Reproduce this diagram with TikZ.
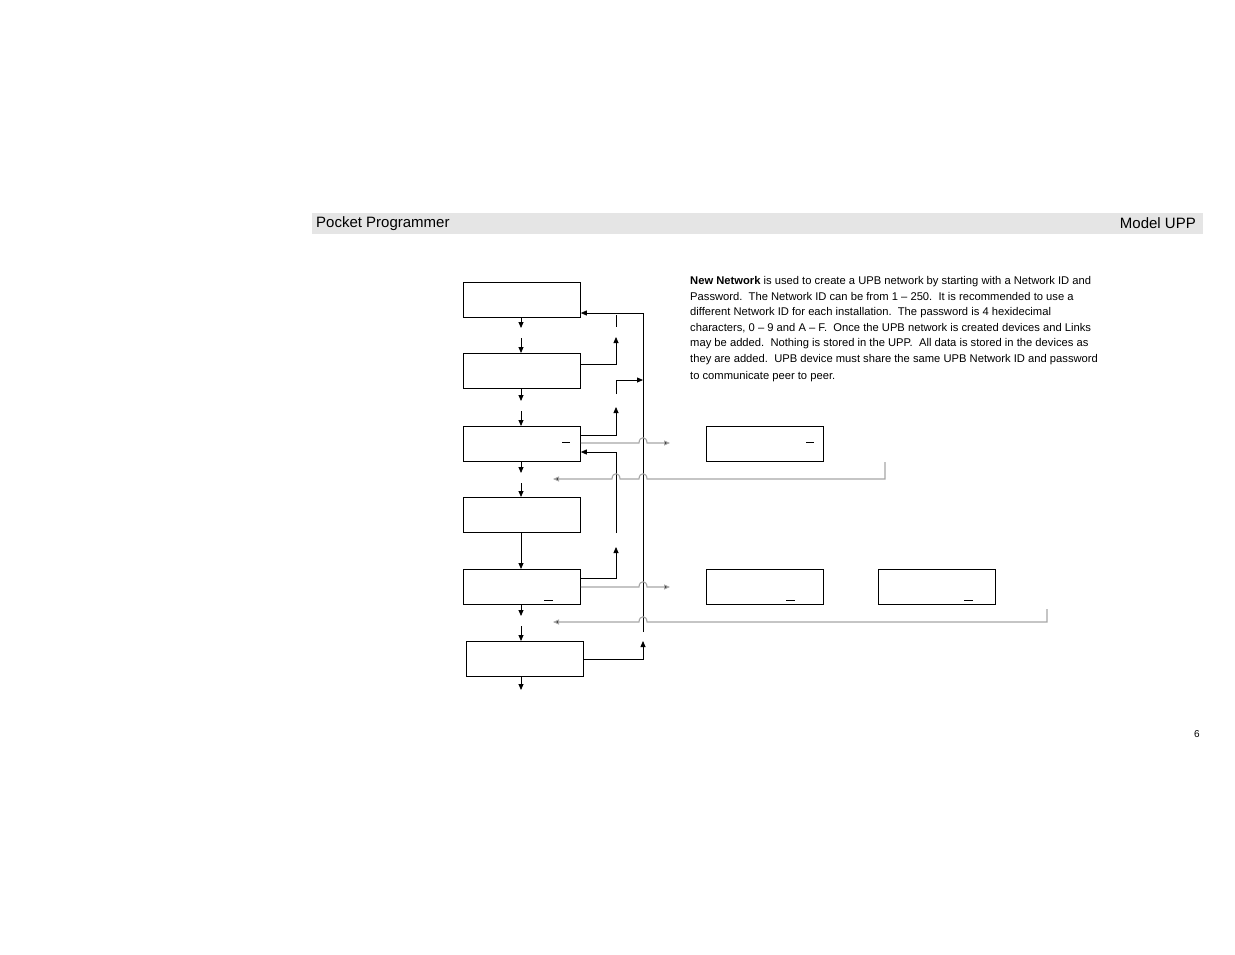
\documentclass[tikz,border=0pt]{standalone}
\usepackage{fontspec}
\setmainfont{Liberation Sans}
\usetikzlibrary{arrows.meta}
\begin{document}
\begin{tikzpicture}[x=1pt,y=-1pt,
  bx/.style={draw,line width=0.8pt,minimum width=117pt,minimum height=35pt,inner sep=0pt,anchor=north west},
  ln/.style={line width=0.8pt},
  ar/.style={line width=0.8pt,-{Triangle[length=6pt,width=5pt]}},
  gr/.style={line width=1.1pt,draw=gray!70},
  gar/.style={line width=1.1pt,draw=gray!70,-{Triangle[length=6pt,width=5pt,fill=black]}},
  dsh/.style={line width=0.8pt},
  txt/.style={anchor=base west,inner sep=0pt,font=\fontsize{11.2}{13}\selectfont}]
\useasboundingbox (0,0) rectangle (1235,954);
\fill[gray!20] (312,213) rectangle (1203,234);
\node[anchor=west,inner sep=0pt,font=\fontsize{15}{17}\selectfont] (hl) at (316,223.5) {Pocket Programmer};
\node[anchor=east,inner sep=0pt,font=\fontsize{15}{17}\selectfont] (hr) at (1196,223.5) {Model UPP};
\node[anchor=base east,inner sep=0pt,font=\fontsize{10}{12}\selectfont] (pg) at (1200,737) {6};
% paragraph
\node[txt] (t1) at (690,284.5) {\textbf{New Network} is used to create a UPB network by starting with a Network ID and};
\node[txt] (t2) at (690,300) {Password.\ \ The Network ID can be from 1 -- 250.\ \ It is recommended to use a};
\node[txt] (t3) at (690,315.5) {different Network ID for each installation.\ \ The password is 4 hexidecimal};
\node[txt] (t4) at (690,331) {characters, 0 -- 9 and A -- F.\ \ Once the UPB network is created devices and Links};
\node[txt] (t5) at (690,346.5) {may be added.\ \ Nothing is stored in the UPP.\ \ All data is stored in the devices as};
\node[txt] (t6) at (690,362) {they are added.\ \ UPB device must share the same UPB Network ID and password};
\node[txt] (t7) at (690,379) {to communicate peer to peer.};
% boxes
\node[bx] (b1) at (463,282) {};
\node[bx] (b2) at (463,353) {};
\node[bx] (b3) at (463,426) {};
\node[bx] (b4) at (463,497) {};
\node[bx] (b5) at (463,569) {};
\node[bx] (b6) at (466,641) {};
\node[bx] (b7) at (706,426) {};
\node[bx] (b8) at (706,569) {};
\node[bx] (b9) at (878,569) {};
% cursor dashes
\draw[dsh] (562,442) -- (570,442);
\draw[dsh] (544,600) -- (553,600);
\draw[dsh] (806,442) -- (814,442);
\draw[dsh] (786,600) -- (795,600);
\draw[dsh] (964,600) -- (973,600);
% down arrows
\draw[ar] (b1.south -| 521,0) -- (521,328);
\draw[ar] (521,338) -- (b2.north -| 521,0);
\draw[ar] (b2.south -| 521,0) -- (521,401);
\draw[ar] (521,411) -- (b3.north -| 521,0);
\draw[ar] (b3.south -| 521,0) -- (521,473);
\draw[ar] (521,483) -- (b4.north -| 521,0);
\draw[ar] (b4.south -| 521,0) -- (b5.north -| 521,0);
\draw[ar] (b5.south -| 521,0) -- (521,616);
\draw[ar] (521,626) -- (b6.north -| 521,0);
\draw[ar] (b6.south -| 521,0) -- (521,690);
% right side black lines
\draw[ar] (643,632) -- (643,313) -- (b1.east |- 0,313);
\draw[ar] (b6.east |- 0,659) -- (643,659) -- (643,641);
\draw[ln] (616,315) -- (616,327);
\draw[ar] (b2.east |- 0,364) -- (616,364) -- (616,337);
\draw[ar] (616,394) -- (616,380) -- (643,380);
\draw[ar] (b3.east |- 0,435) -- (616,435) -- (616,407);
\draw[ar] (616,533) -- (616,452) -- (b3.east |- 0,452);
\draw[ar] (b5.east |- 0,578) -- (616,578) -- (616,547);
% gray lines with hops
\draw[gar] (b3.east |- 0,443) -- (639,443) .. controls (639,436) and (647,436) .. (647,443) -- (670,443);
\draw[gar] (885,462) -- (885,479) -- (647,479) .. controls (647,472) and (639,472) .. (639,479) -- (620,479) .. controls (620,472) and (612,472) .. (612,479) -- (553,479);
\draw[gar] (b5.east |- 0,587) -- (639,587) .. controls (639,580) and (647,580) .. (647,587) -- (670,587);
\draw[gar] (1047,609) -- (1047,622) -- (647,622) .. controls (647,615) and (639,615) .. (639,622) -- (553,622);
\end{tikzpicture}
\end{document}
